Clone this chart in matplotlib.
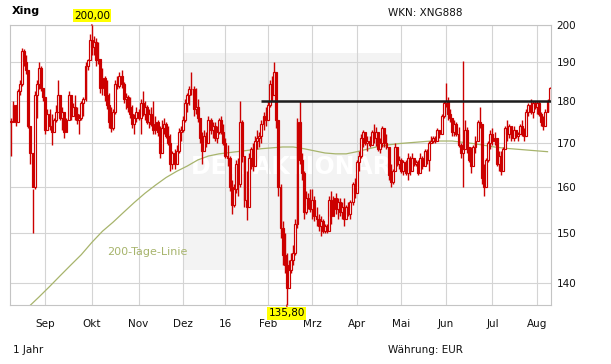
import numpy as np
import pandas as pd
import matplotlib
matplotlib.use("Agg")
import matplotlib.pyplot as plt
from matplotlib.patches import Rectangle

# ---------------- data ----------------
title = "Xing"
wkn_text = "WKN: XNG888"
period_text = "1 Jahr"
currency_text = "Währung: EUR"
ma_label = "200-Tage-Linie"
watermark = "DER AKTIONÄR"

first_day = "2015-08-10"
last_day = "2016-08-09"
exchange_holidays = ["2015-12-24", "2015-12-25", "2015-12-31", "2016-01-01",
                     "2016-03-25", "2016-03-28", "2016-05-16"]

month_labels = ["Sep", "Okt", "Nov", "Dez", "16", "Feb", "Mrz", "Apr",
                "Mai", "Jun", "Jul", "Aug"]
y_ticks = [140, 150, 160, 170, 180, 190, 200]

# daily closes (one per trading day)
closes = [
    # Aug 2015
    175.0, 179.0, 175.0, 182.5, 184.5, 193.0, 190.0, 188.0, 174.0, 167.5,
    160.0, 181.5, 184.5, 188.5, 183.5, 181.0,
    # Sep
    173.0, 177.0, 174.0, 172.5, 175.5, 177.5, 181.5, 176.0, 177.5, 172.5,
    175.5, 181.5, 176.5, 178.5, 177.0, 175.5, 176.0, 179.5, 180.5, 189.0,
    190.5, 196.0,
    # Oct
    194.0, 195.5, 190.5, 191.0, 183.5, 186.0, 181.5,
    179.0, 175.0, 173.5, 177.5, 184.5, 184.0, 186.5, 184.5, 180.5, 181.0,
    178.5, 177.0, 174.5, 176.0, 177.5,
    # Nov
    176.0, 179.5, 177.0, 178.5, 175.0, 177.0, 174.5, 173.0, 175.0, 172.5,
    167.5, 173.5, 174.5, 171.5, 170.0, 165.0, 167.5, 165.0, 168.0, 172.5,
    173.0,
    # Dec
    175.5, 179.5, 181.5, 183.0, 183.0, 178.0,
    178.5, 176.0, 171.0, 168.0, 171.5, 170.0, 175.5, 173.0, 174.0, 171.0,
    172.5, 175.5, 172.5, 170.0,
    # Jan 2016
    167.0, 166.5, 160.0, 156.0, 159.5, 165.0, 160.5, 175.0, 167.0, 157.0,
    155.5, 166.5, 168.5, 164.5, 170.5, 171.0, 171.5, 174.5, 176.5, 175.5,
    # Feb
    179.0, 184.5, 181.5, 187.5, 175.5, 160.0, 151.0, 145.5, 143.5,
    139.0, 142.5, 144.5, 146.0, 152.0, 175.0, 166.0, 163.0, 154.5, 157.5,
    156.0, 155.0,
    # Mar
    157.0, 153.5, 153.0, 151.5, 152.5, 150.5, 151.5, 150.5, 157.0, 153.5,
    157.5, 155.0, 156.5, 154.5, 155.5, 153.0, 155.5, 154.0, 156.5, 160.5,
    158.5,
    # Apr
    165.5, 167.0, 171.0, 172.5, 170.0, 170.5, 169.5, 172.5, 171.0,
    172.5, 168.5, 170.0, 173.5, 170.0, 169.0, 162.5, 161.0, 163.5, 169.0,
    165.0, 166.0,
    # May
    163.5, 165.5, 163.0, 166.5, 163.5, 166.5, 165.0, 165.5, 163.0, 166.5,
    164.5, 168.0, 166.0, 170.0, 170.5, 171.0, 170.5, 173.0, 172.0, 176.5,
    179.5,
    # Jun
    180.0, 177.0, 176.0, 172.5, 174.5, 172.0, 169.5, 167.5, 168.5, 173.0,
    169.0, 166.0, 164.5, 169.0, 170.5, 175.0, 174.5, 162.0, 160.0, 166.0,
    170.0, 172.0,
    # Jul
    170.5, 171.0, 165.0, 167.0, 163.5, 168.5, 173.5, 172.0, 174.0, 171.0,
    173.0, 171.5, 172.0, 174.0, 172.0, 171.5, 177.5, 179.0, 177.5, 179.5,
    178.5,
    # Aug
    179.5, 177.0, 175.0, 174.0, 177.5, 180.0, 183.5,
]

highs = [
    175.8, 180.2, 178.5, 183.2, 185.5, 193.8, 193.5, 192.0, 185.5, 172.0,
    159.5, 182.5, 185.5, 190.0, 189.0, 182.5,
    179.0, 178.0, 178.0, 177.0, 176.0, 179.0, 185.5, 180.5, 178.5, 177.0,
    176.0, 182.5, 180.5, 179.5, 181.5, 178.5, 177.0, 180.0, 181.0, 190.0,
    191.0, 197.5,
    200.0, 197.0, 196.5, 195.5, 190.5, 188.5, 186.5,
    185.5, 182.0, 178.5, 178.0, 185.5, 186.5, 187.5, 188.0, 185.0, 182.0,
    181.5, 181.0, 179.0, 177.0, 178.5,
    178.0, 180.5, 182.5, 180.0, 179.0, 178.0, 178.5, 180.0, 176.5, 175.5,
    174.0, 175.5, 176.0, 175.0, 174.0, 172.0, 168.0, 168.5, 169.5, 173.5,
    174.0,
    176.5, 180.5, 182.0, 184.0, 187.5, 184.0,
    183.5, 180.5, 176.0, 172.5, 173.0, 172.5, 176.5, 176.0, 175.0, 175.0,
    174.0, 176.0, 176.5, 174.5,
    171.0, 169.5, 167.0, 161.5, 160.5, 166.0, 166.5, 180.0, 175.5, 167.0,
    163.5, 167.5, 169.0, 170.0, 171.5, 173.0, 172.5, 175.5, 177.5, 178.5,
    180.0, 185.5, 186.5, 190.0, 187.0, 173.0, 160.5, 152.5, 150.0,
    146.0, 144.5, 146.0, 147.5, 153.0, 176.0, 180.0, 167.5, 163.5, 159.0,
    158.5, 159.5,
    159.5, 158.0, 155.5, 154.0, 153.5, 153.0, 152.0, 152.0, 158.0, 159.0,
    158.0, 158.5, 157.5, 157.5, 156.5, 157.5, 156.0, 156.5, 157.0, 161.0,
    162.0,
    166.0, 168.0, 172.0, 173.0, 172.5, 171.5, 171.5, 173.0, 174.5,
    173.7, 172.0, 171.0, 174.0, 173.5, 172.0, 168.5, 165.0, 164.0, 170.0,
    168.0, 167.0,
    166.5, 166.0, 166.0, 167.5, 167.0, 167.5, 166.5, 166.0, 166.0, 167.5,
    167.0, 168.5, 168.5, 170.5, 171.5, 171.5, 171.5, 173.5, 173.0, 177.0,
    180.0,
    184.6, 181.0, 178.0, 175.5, 175.5, 175.0, 173.7, 170.0, 190.3, 175.5,
    173.7, 168.5, 169.0, 169.5, 171.5, 175.5, 178.6, 174.0, 165.0, 166.5,
    170.5, 173.0,
    173.5, 172.5, 170.0, 168.0, 168.0, 169.0, 174.0, 175.5, 174.5, 173.5,
    174.0, 173.0, 172.5, 174.5, 175.5, 173.5, 178.0, 179.5, 180.5, 180.0,
    180.0,
    180.0, 180.0, 177.5, 176.5, 178.0, 180.5, 183.7,
]

lows = [
    166.9, 175.0, 174.0, 175.0, 181.5, 184.0, 189.0, 187.0, 173.5, 165.0,
    150.1, 159.5, 176.0, 183.0, 182.5, 180.0,
    172.0, 173.5, 173.0, 169.5, 173.5, 175.0, 178.0, 175.5, 173.0, 171.0,
    172.5, 177.5, 175.5, 176.5, 175.5, 174.5, 172.0, 175.5, 176.5, 180.0,
    188.0, 191.0,
    192.0, 192.0, 189.0, 189.5, 182.0, 181.5, 180.0,
    178.0, 173.5, 172.5, 173.0, 177.0, 183.0, 183.5, 183.5, 179.5, 178.0,
    177.5, 176.0, 173.5, 172.0, 175.0,
    175.5, 172.0, 176.5, 175.5, 174.5, 173.5, 174.0, 172.0, 172.0, 171.5,
    166.5, 169.5, 172.0, 171.0, 169.5, 163.5, 164.0, 164.0, 166.5, 167.5,
    170.5,
    172.5, 175.0, 177.5, 179.0, 181.5, 176.5,
    177.0, 175.0, 170.0, 165.0, 168.0, 169.0, 171.0, 172.0, 171.0, 170.5,
    170.0, 172.0, 172.0, 169.5,
    166.5, 164.5, 159.0, 154.0, 155.5, 158.5, 158.0, 160.0, 165.5, 155.5,
    152.7, 162.5, 164.0, 163.5, 167.0, 168.5, 169.0, 170.0, 173.0, 174.0,
    175.5, 178.5, 180.0, 182.0, 173.5, 158.0, 149.0, 143.5, 142.0,
    135.8, 139.0, 142.0, 143.5, 145.5, 151.0, 165.0, 161.5, 153.0, 154.0,
    155.0, 154.5,
    153.0, 152.5, 151.5, 150.5, 149.5, 150.0, 150.0, 150.0, 150.5, 152.0,
    154.5, 154.0, 153.0, 153.5, 153.0, 151.5, 153.5, 153.5, 153.0, 156.0,
    157.5,
    160.0, 163.5, 166.5, 169.0, 169.5, 168.0, 169.0, 169.5, 170.0,
    169.2, 168.0, 167.5, 169.0, 169.0, 168.5, 161.5, 160.0, 160.5, 164.5,
    164.5, 164.0,
    163.0, 162.5, 162.5, 161.5, 162.5, 164.0, 164.5, 164.5, 162.5, 163.0,
    164.0, 165.5, 165.0, 163.5, 170.0, 170.0, 170.0, 170.5, 171.0, 173.0,
    176.0,
    178.5, 175.5, 175.0, 171.5, 171.5, 171.5, 169.0, 166.5, 159.8, 169.5,
    167.7, 165.5, 163.0, 164.5, 167.5, 171.0, 173.5, 160.5, 158.0, 160.0,
    165.5, 168.5,
    169.5, 169.5, 164.5, 163.5, 162.5, 166.0, 168.5, 170.5, 171.0, 170.5,
    170.5, 171.0, 170.5, 172.0, 171.5, 170.5, 174.0, 176.5, 177.0, 176.0,
    178.0,
    177.0, 176.5, 174.0, 173.0, 174.0, 177.5, 180.0,
]

# 200-day moving average, sampled every 5th trading day starting at day 3
ma_start, ma_step = 3, 5
ma200 = [
    133.6, 135.4, 137.3, 139.3, 141.4, 143.5, 145.6, 148.1, 150.4, 152.3,
    154.4, 156.5, 158.5, 160.3, 162.0, 163.4, 164.6, 166.0, 166.9, 167.4,
    167.7, 168.0, 168.3, 168.6, 168.8, 169.0, 169.0, 168.6, 168.1, 167.6,
    167.4, 167.4, 167.9, 168.5, 169.1, 169.5, 169.8, 170.0, 170.2, 170.4,
    170.4, 170.4, 170.1, 169.8, 169.4, 169.0, 168.7, 168.5, 168.3, 168.1,
    167.9,
]

resistance_level = 180.0
resistance_from = "2016-01-27"

# ---------------- layout ----------------
W, H = 611, 364
fig = plt.figure(figsize=(W / 100, H / 100), dpi=100)
ax_l, ax_r, ax_t, ax_b = 10.3, 550.7, 25.3, 305.0
ax = fig.add_axes([ax_l / W, 1 - ax_b / H, (ax_r - ax_l) / W, (ax_b - ax_t) / H])

days = pd.bdate_range(first_day, last_day)
days = days[~days.isin(pd.to_datetime(exchange_holidays))]
N = len(closes)
assert len(days) == N == len(highs) == len(lows)
x = np.arange(N)

c = np.array(closes)
o = np.r_[c[0], c[:-1]]  # open taken as previous close
h = np.array(highs)
l = np.array(lows)

red = "#cc0000"
ax.set_yscale("log")
ax.set_xlim(-0.5, N - 0.5)
ax.set_ylim(min(lows), max(highs))

# background watermark block
ax.add_patch(Rectangle((0.3196, 0.125), 0.4034, 0.776, transform=ax.transAxes,
                       facecolor="#f3f3f3", edgecolor="none", zorder=0.1))
ax.text(0.52, 0.493, watermark, transform=ax.transAxes, color="white",
        fontsize=17, fontweight="bold", ha="center", va="center", zorder=0.3)

# grid
month_idx = [i for i in range(1, N) if days[i].month != days[i - 1].month]
ax.set_xticks(month_idx)
ax.set_xticklabels(month_labels)
ax.set_yticks(y_ticks)
ax.set_yticklabels([str(v) for v in y_ticks])
ax.minorticks_off()
ax.set_axisbelow(True)
ax.grid(True, color="#d4d4d4", linewidth=0.8)
for s in ax.spines.values():
    s.set_color("#c4c4c4")
    s.set_linewidth(0.8)
ax.yaxis.tick_right()
ax.tick_params(axis="y", length=0, pad=4.3, labelsize=7.5, labelcolor="#111111")
ax.tick_params(axis="x", length=0, pad=10, labelsize=7.5, labelcolor="#111111")

# moving average
ma_x = np.arange(ma_start, ma_start + ma_step * len(ma200), ma_step)
ax.plot(ma_x, ma200, color="#a7b46c", linewidth=0.9, zorder=2)
ax.text((106.7 - ax_l) / (ax_r - ax_l), (ax_b - 252.3) / (ax_b - ax_t), ma_label,
        transform=ax.transAxes, color="#a7b46c", fontsize=8, ha="left", va="center")

# candles
ax.vlines(x, l, h, color=red, linewidth=1.0, zorder=3)
up = c >= o
bottom = np.minimum(o, c)
height = np.maximum(np.abs(c - o), 0.15)
ax.bar(x, height, bottom=bottom, width=0.9,
       color=np.where(up, "white", red), edgecolor=red, linewidth=0.85, zorder=4)

# resistance line
r0 = int(np.where(days == pd.Timestamp(resistance_from))[0][0])
ax.hlines(resistance_level, r0, N - 0.5, color="#1c1c1c", linewidth=1.8, zorder=5)

# high / low markers
imax = int(np.argmax(h)); imin = int(np.argmin(l))
fmt = lambda v: f"{v:.2f}".replace(".", ",")
ax.annotate(fmt(h[imax]), xy=(imax, h[imax]), xytext=(0, 7), textcoords="offset points",
            ha="center", va="center", fontsize=7.5, annotation_clip=False,
            bbox=dict(boxstyle="square,pad=0.12", facecolor="#ffff00", edgecolor="none"),
            arrowprops=dict(arrowstyle="-", color=red, lw=0.9), zorder=6)
ax.annotate(fmt(l[imin]), xy=(imin, l[imin]), xytext=(0, -6), textcoords="offset points",
            ha="center", va="center", fontsize=7.5, annotation_clip=False,
            bbox=dict(boxstyle="square,pad=0.12", facecolor="#ffff00", edgecolor="none"),
            arrowprops=dict(arrowstyle="-", color=red, lw=0.9), zorder=6)

# header / footer texts
fig.text(12 / W, 1 - 11 / H, title, fontsize=8, fontweight="bold", ha="left", va="center")
fig.text(388 / W, 1 - 12.5 / H, wkn_text, fontsize=7.5, ha="left", va="center", color="#111111")
fig.text(12.5 / W, 1 - 350 / H, period_text, fontsize=7.5, ha="left", va="center", color="#111111")
fig.text(388 / W, 1 - 350 / H, currency_text, fontsize=7.5, ha="left", va="center", color="#111111")

fig.savefig("out.png", dpi=100, facecolor="white")
